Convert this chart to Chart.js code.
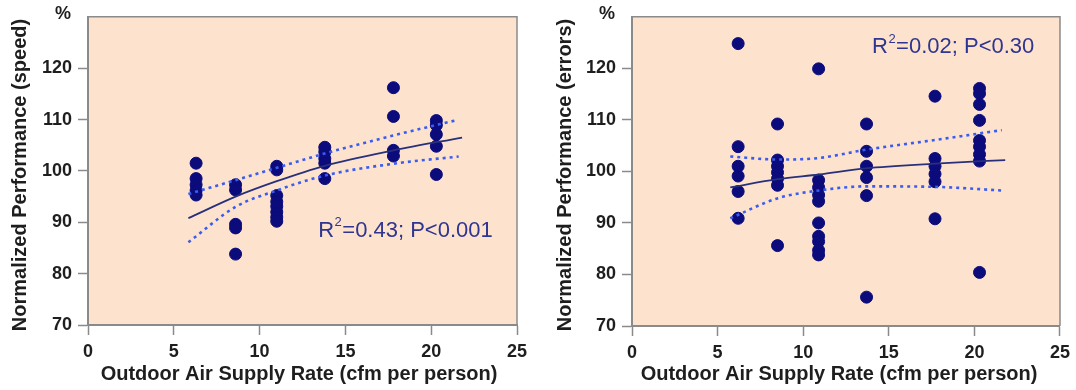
<!DOCTYPE html>
<html>
<head>
<meta charset="utf-8">
<script src="https://cdn.jsdelivr.net/npm/chart.js@4.4.0/dist/chart.umd.min.js"></script>
<style>
  html, body { margin: 0; padding: 0; background: #fff; }
  #wrap { position: relative; width: 1076px; height: 390px; }
  .panel { position: absolute; top: 0; height: 390px; }
</style>
</head>
<body>
<div id="wrap">
  <div class="panel" style="left:0;width:540px"><canvas id="speedChart"></canvas></div>
  <div class="panel" style="left:540px;width:536px"><canvas id="errorChart"></canvas></div>
</div>
<script>
/******************** DATA ******************/
const X_TICKS = [0, 5, 10, 15, 20, 25];
const Y_TICKS = [70, 80, 90, 100, 110, 120];

// left panel: speed
const speedX = [6.3, 6.3, 6.3, 6.3, 6.3,
  8.6, 8.6, 8.6, 8.6, 8.6,
  11.0, 11.0, 11.0, 11.0, 11.0, 11.0, 11.0, 11.0,
  13.8, 13.8, 13.8, 13.8, 13.8,
  17.8, 17.8, 17.8, 17.8,
  20.3, 20.3, 20.3, 20.3, 20.3];
const speedY = [101.5, 98.5, 97.3, 96.2, 95.3,
  97.3, 96.3, 89.6, 88.9, 83.8,
  100.9, 100.2, 95.2, 94.0, 93.1, 92.0, 91.0, 90.2,
  104.6, 103.7, 102.4, 101.5, 98.5,
  116.2, 110.6, 104.0, 102.9,
  109.8, 108.9, 107.1, 104.8, 99.3];
const speedFitX = [5.85, 8.6, 11.0, 13.8, 17.8, 21.8];
const speedFitY = [90.8, 95.0, 98.0, 101.0, 104.0, 106.5];
const speedUpperX = [5.85, 8.6, 11.0, 13.8, 17.8, 21.5];
const speedUpperY = [95.5, 98.2, 100.6, 103.4, 106.9, 109.9];
const speedLowerX = [5.85, 8.6, 11.0, 13.8, 17.8, 21.6];
const speedLowerY = [86.1, 93.0, 96.2, 99.1, 101.4, 102.8];

// right panel: errors
const errorX = [6.2, 6.2, 6.2, 6.2, 6.2, 6.2,
  8.5, 8.5, 8.5, 8.5, 8.5, 8.5, 8.5,
  10.9, 10.9, 10.9, 10.9, 10.9, 10.9, 10.9, 10.9, 10.9, 10.9,
  13.7, 13.7, 13.7, 13.7, 13.7, 13.7,
  17.7, 17.7, 17.7, 17.7, 17.7, 17.7,
  20.3, 20.3, 20.3, 20.3, 20.3, 20.3, 20.3, 20.3, 20.3];
const errorY = [124.8, 104.8, 101.0, 99.1, 96.1, 90.9,
  109.2, 102.2, 101.0, 99.8, 98.6, 97.3, 85.6,
  119.9, 98.3, 96.9, 95.4, 94.2, 90.0, 87.4, 86.4, 84.7, 83.8,
  109.2, 103.9, 101.0, 98.8, 95.3, 75.6,
  114.6, 102.5, 101.0, 99.5, 98.0, 90.8,
  116.1, 115.1, 113.0, 109.9, 106.0, 104.8, 103.3, 102.0, 80.4];
const errorFitX = [5.74, 8.52, 10.93, 13.66, 17.7, 21.8];
const errorFitY = [96.9, 98.5, 99.4, 100.6, 101.5, 102.2];
const errorUpperX = [5.74, 8.52, 10.93, 13.66, 17.7, 21.6];
const errorUpperY = [102.9, 102.3, 102.6, 104.2, 106.1, 108.0];
const errorLowerX = [5.74, 8.52, 10.93, 13.66, 17.7, 21.6];
const errorLowerY = [90.9, 94.8, 96.3, 97.1, 97.0, 96.3];

/******************** STYLE ******************/
const FONT = "'Liberation Sans', Arial, Helvetica, sans-serif";
const BG = '#fde3cd';
const AXIS = '#8a8a8a';
const DOT = '#0b0b7c';
const FIT = '#28307c';
const BAND = '#3a5cf0';
const STAT = '#2f3590';

/******************** HELPERS ******************/
function toPoints(xs, ys) {
  return xs.map((x, i) => ({ x: x, y: ys[i] }));
}

function lineSet(xs, ys, color, width, dash) {
  return {
    type: 'line',
    data: toPoints(xs, ys),
    borderColor: color,
    borderWidth: width,
    borderDash: dash,
    pointRadius: 0,
    fill: false,
    tension: 0.4,
    cubicInterpolationMode: 'monotone',
    order: 0
  };
}

// background, frame and all text labels
const panelPlugin = {
  id: 'panel',
  beforeDraw(chart, args, o) {
    const { ctx, chartArea: a } = chart;
    ctx.save();
    ctx.fillStyle = BG;
    ctx.fillRect(a.left, a.top, a.right - a.left, a.bottom - a.top);
    ctx.restore();
  },
  afterDraw(chart, args, o) {
    const { ctx, chartArea: a, scales } = chart;
    ctx.save();
    // top and right frame
    ctx.strokeStyle = AXIS;
    ctx.lineWidth = 1.5;
    ctx.beginPath();
    ctx.moveTo(a.left, a.top);
    ctx.lineTo(a.right, a.top);
    ctx.lineTo(a.right, a.bottom);
    ctx.stroke();

    ctx.fillStyle = '#1e1e1e';
    ctx.textAlign = 'center';
    ctx.textBaseline = 'middle';
    ctx.font = 'bold 20px ' + FONT;
    ctx.fillText(o.xTitle, o.xTitleX, 374);

    ctx.save();
    ctx.translate(o.yTitleX, 175);
    ctx.rotate(-Math.PI / 2);
    ctx.fillText(o.yTitle, 0, 0);
    ctx.restore();

    ctx.font = 'bold 18px ' + FONT;
    ctx.fillText('%', o.pctX, 14);

    // R² text
    const cx = scales.x.getPixelForValue(o.statAt[0]);
    const cy = scales.y.getPixelForValue(o.statAt[1]);
    const big = '22px ' + FONT, small = '13px ' + FONT;
    ctx.font = big;
    const w1 = ctx.measureText('R').width;
    const w3 = ctx.measureText(o.stat).width;
    ctx.font = small;
    const w2 = ctx.measureText('2').width + 1;
    let x = cx - (w1 + w2 + w3) / 2;
    ctx.fillStyle = STAT;
    ctx.textAlign = 'left';
    ctx.font = big;
    ctx.fillText('R', x, cy);
    ctx.font = small;
    ctx.fillText('2', x + w1 + 0.5, cy - 8);
    ctx.font = big;
    ctx.fillText(o.stat, x + w1 + w2, cy);
    ctx.restore();
  }
};

function makeChart(id, xs, ys, fit, upper, lower, opts, box) {
  return new Chart(document.getElementById(id), {
    type: 'scatter',
    data: {
      datasets: [
        lineSet(upper[0], upper[1], BAND, 2.6, [3, 4]),
        lineSet(lower[0], lower[1], BAND, 2.6, [3, 4]),
        lineSet(fit[0], fit[1], FIT, 1.8, []),
        {
          data: toPoints(xs, ys),
          backgroundColor: DOT,
          borderColor: DOT,
          pointRadius: 6,
          pointHoverRadius: 6,
          order: 1
        }
      ]
    },
    options: {
      responsive: true,
      maintainAspectRatio: false,
      animation: false,
      layout: { padding: { top: box.top, right: box.right, left: 0, bottom: 0 } },
      plugins: {
        legend: { display: false },
        tooltip: { enabled: false },
        panel: opts
      },
      scales: {
        x: {
          type: 'linear',
          min: X_TICKS[0],
          max: X_TICKS[X_TICKS.length - 1],
          afterBuildTicks: s => { s.ticks = X_TICKS.map(v => ({ value: v })); },
          afterFit: s => { s.height = box.xh; },
          ticks: { color: '#1e1e1e', padding: 6, font: { family: FONT, size: 18, weight: 'bold' } },
          grid: { drawOnChartArea: false, tickLength: 10, color: AXIS, tickWidth: 1.5 },
          border: { color: AXIS, width: 2 }
        },
        y: {
          type: 'linear',
          min: 70,
          max: 130,
          afterBuildTicks: s => { s.ticks = Y_TICKS.map(v => ({ value: v })); },
          afterFit: s => { s.width = box.yw; },
          ticks: { color: '#1e1e1e', padding: 6, font: { family: FONT, size: 18, weight: 'bold' } },
          grid: { drawOnChartArea: false, tickLength: 10, color: AXIS, tickWidth: 1.5 },
          border: { color: AXIS, width: 2 }
        }
      }
    },
    plugins: [panelPlugin]
  });
}

/******************** INIT ******************/
makeChart('speedChart', speedX, speedY,
  [speedFitX, speedFitY], [speedUpperX, speedUpperY], [speedLowerX, speedLowerY],
  {
    xTitle: 'Outdoor Air Supply Rate (cfm per person)', xTitleX: 299,
    yTitle: 'Normalized Performance (speed)', yTitleX: 20,
    pctX: 63, stat: '=0.43; P<0.001', statAt: [18.5, 88.4]
  },
  { top: 12, right: 23, xh: 65, yw: 88 });

makeChart('errorChart', errorX, errorY,
  [errorFitX, errorFitY], [errorUpperX, errorUpperY], [errorLowerX, errorLowerY],
  {
    xTitle: 'Outdoor Air Supply Rate (cfm per person)', xTitleX: 299,
    yTitle: 'Normalized Performance (errors)', yTitleX: 25,
    pctX: 67, stat: '=0.02; P<0.30', statAt: [18.76, 124.1]
  },
  { top: 12, right: 15, xh: 64, yw: 92 });
</script>
</body>
</html>
